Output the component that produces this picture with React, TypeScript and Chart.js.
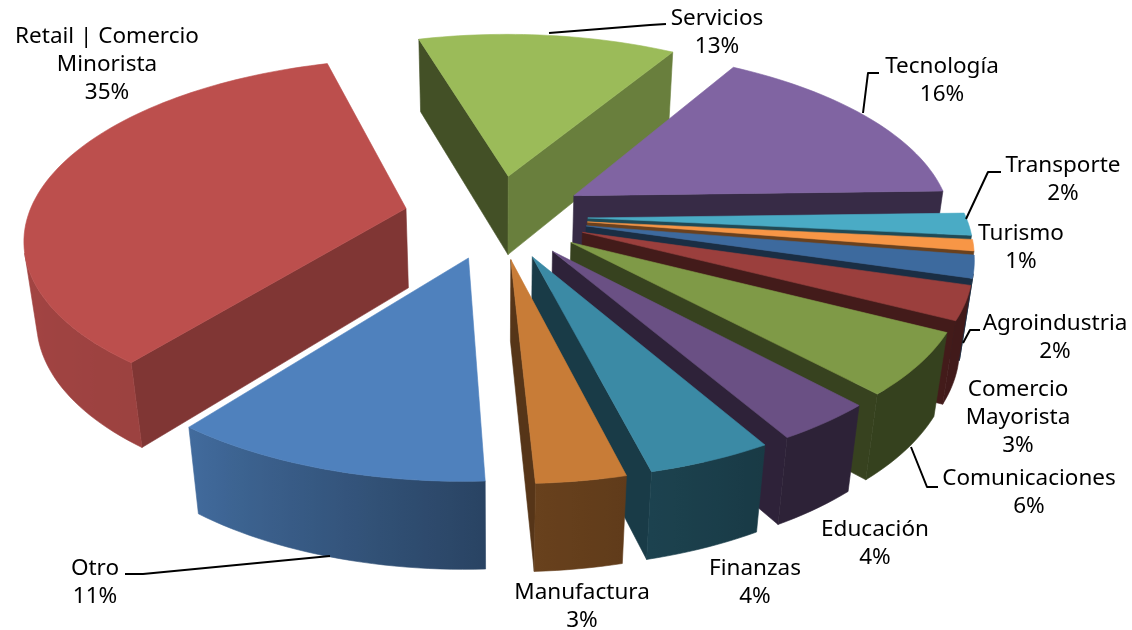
import React, { useEffect, useRef } from "react";
import { Chart, registerables } from "chart.js";

Chart.register(...registerables);

const categories = [
  "Retail | Comercio\nMinorista", "Servicios", "Tecnología", "Transporte", "Turismo", "Agroindustria",
  "Comercio\nMayorista", "Comunicaciones", "Educación", "Finanzas", "Manufactura", "Otro",
];
const shares = [35, 13, 16, 2, 1, 2, 3, 5.55, 3.55, 4.42, 3.17, 11.31];
const colors = [
  "#BC4F4D", "#9BBB59", "#8064A2", "#4AABC5", "#F79646", "#3D6A9E",
  "#9B3F3D", "#7F9A47", "#6A5084", "#3B8AA5", "#C87C37", "#4F81BD",
];

// label layout: centre x, first baseline y
const labelAnchors: [number, number][] = [
  [107, 43], [717, 25], [942, 73], [1063, 172], [1021, 240], [1055, 330],
  [1018, 396], [1029, 485], [875, 536], [755, 575], [582, 599], [95, 575],
];
const leaders: [number, number][][] = [
  [[549, 33], [650, 25], [666, 24]],
  [[863, 113], [868, 73], [879, 73]],
  [[966, 219], [988, 172], [1001, 172]],
  [[963, 343], [970, 330], [980, 330]],
  [[911, 447], [927, 487], [938, 487]],
  [[330, 556], [143, 574], [125, 574]],
];

const VIEW = { cx: 497, cy: 216.5, R: 378, Ry: 175, k: 0.153, D: 82, t: 0.8, m: 0.027, explode: 0.24 };
const RETAIL_EXPLODE = 0.247;
const FONT = '22.5px "Noto Sans", sans-serif';
const LINE = 28;

function project(X: number, Y: number, z: number): [number, number] {
  const w = 1 + VIEW.k * Y + VIEW.m * z;
  return [VIEW.cx + (VIEW.R * X) / w, VIEW.cy + (-VIEW.Ry * Y + (VIEW.D + VIEW.t * Y) * z) / w];
}

function shade(hex: string, f: number) {
  const n = parseInt(hex.slice(1), 16);
  return `rgb(${Math.round(((n >> 16) & 255) * f)},${Math.round(((n >> 8) & 255) * f)},${Math.round((n & 255) * f)})`;
}

function outerShade(deg: number) {
  if (deg < 150) return 0.42;
  if (deg < 177) return 0.42 + ((deg - 150) / 27) * 0.1;
  if (deg < 218) return 0.52 + ((deg - 177) / 41) * 0.31;
  return Math.min(0.9, 0.83 + ((deg - 218) / 70) * 0.07);
}

function poly(ctx: CanvasRenderingContext2D, pts: [number, number][], fill: string | CanvasGradient) {
  ctx.beginPath();
  pts.forEach((p, i) => (i ? ctx.lineTo(p[0], p[1]) : ctx.moveTo(p[0], p[1])));
  ctx.closePath();
  ctx.fillStyle = fill;
  ctx.strokeStyle = fill;
  ctx.lineWidth = 0.6;
  ctx.fill();
  ctx.stroke();
}

function area(p: [number, number][]) {
  let s = 0;
  p.forEach((a, i) => {
    const b = p[(i + 1) % p.length];
    s += a[0] * b[1] - b[0] * a[1];
  });
  return s / 2;
}

const wallShade = (normalRad: number) => {
  const d = (((normalRad * 180) / Math.PI) % 360 + 360) % 360;
  return d > 100 && d < 170 ? 0.68 : 0.43;
};

const pie3d = {
  id: "pie3d",
  beforeDatasetsDraw(chart: any) {
    const ctx: CanvasRenderingContext2D = chart.ctx;
    const arcs = chart.getDatasetMeta(0).data;
    const slices = arcs.map((arc: any, i: number) => {
      const a0 = arc.startAngle + Math.PI / 2;
      const a1 = arc.endAngle + Math.PI / 2;
      const mid = (a0 + a1) / 2;
      const e = i === 0 ? RETAIL_EXPLODE : VIEW.explode;
      return { i, a0, a1, ox: e * Math.sin(mid), oy: e * Math.cos(mid) };
    });
    slices.sort((a: any, b: any) => b.oy - a.oy);
    ctx.save();
    for (const s of slices) {
      const color = colors[s.i];
      const rim = (a: number, z: number) => project(s.ox + Math.sin(a), s.oy + Math.cos(a), z);
      const apex = (z: number) => project(s.ox, s.oy, z);
      const startWall: [number, number][] = [apex(0), rim(s.a0, 0), rim(s.a0, 1), apex(1)];
      const endWall: [number, number][] = [apex(1), rim(s.a1, 1), rim(s.a1, 0), apex(0)];
      if (area(startWall) < 0) poly(ctx, startWall, shade(color, wallShade(s.a0 - Math.PI / 2)));
      if (area(endWall) < 0) poly(ctx, endWall, shade(color, wallShade(s.a1 + Math.PI / 2)));
      const steps = Math.max(2, Math.ceil((s.a1 - s.a0) / (Math.PI / 120)));
      const at = (j: number) => s.a0 + ((s.a1 - s.a0) * j) / steps;
      // outer wall: one polygon over the visible run of rim segments, shaded by a gradient along x
      const visible: number[] = [];
      for (let j = 0; j < steps; j++) {
        const q: [number, number][] = [rim(at(j), 0), rim(at(j + 1), 0), rim(at(j + 1), 1), rim(at(j), 1)];
        if (area(q) < 0) visible.push(j);
      }
      if (visible.length) {
        const first = visible[0];
        const last = visible[visible.length - 1] + 1;
        const upper: [number, number][] = [];
        const lower: [number, number][] = [];
        for (let j = first; j <= last; j++) {
          upper.push(rim(at(j), 0));
          lower.unshift(rim(at(j), 1));
        }
        const xs = upper.map((p) => p[0]);
        const x0 = xs[0];
        const x1 = xs[xs.length - 1];
        const g = ctx.createLinearGradient(x0, 0, x1, 0);
        upper.forEach((p, n) => {
          const deg = (at(first + n) * 180) / Math.PI;
          const stop = Math.min(1, Math.max(0, (p[0] - x0) / (x1 - x0 || 1)));
          g.addColorStop(stop, shade(color, outerShade(((deg % 360) + 360) % 360)));
        });
        poly(ctx, [...upper, ...lower], g);
      }
      const top: [number, number][] = [apex(0)];
      for (let j = 0; j <= steps; j++) top.push(rim(at(j), 0));
      poly(ctx, top, color);
    }
    ctx.restore();
    return false;
  },
  afterDraw(chart: any) {
    const ctx: CanvasRenderingContext2D = chart.ctx;
    ctx.save();
    ctx.strokeStyle = "#000";
    ctx.lineWidth = 2;
    ctx.lineJoin = "round";
    for (const l of leaders) {
      ctx.beginPath();
      l.forEach((p, i) => (i ? ctx.lineTo(p[0], p[1]) : ctx.moveTo(p[0], p[1])));
      ctx.stroke();
    }
    ctx.fillStyle = "#000";
    ctx.font = FONT;
    ctx.textAlign = "center";
    ctx.textBaseline = "alphabetic";
    categories.forEach((name, i) => {
      const lines = [...name.split("\n"), `${Math.round(shares[i])}%`];
      lines.forEach((t, j) => ctx.fillText(t, labelAnchors[i][0], labelAnchors[i][1] + j * LINE));
    });
    ctx.restore();
  },
};

export default function App() {
  const ref = useRef<HTMLCanvasElement>(null);
  useEffect(() => {
    const chart = new Chart(ref.current!, {
      type: "pie",
      data: {
        labels: categories,
        datasets: [{ data: shares, backgroundColor: colors, borderWidth: 0 }],
      },
      options: {
        animation: false,
        responsive: false,
        rotation: 218,
        layout: { padding: 0 },
        plugins: { legend: { display: false }, tooltip: { enabled: false } },
      },
      plugins: [pie3d],
    } as any);
    return () => chart.destroy();
  }, []);
  return (
    <div style={{ position: "fixed", left: 0, top: 0, width: 1132, height: 630, background: "#fff" }}>
      <canvas ref={ref} width={1132} height={630} style={{ display: "block" }} />
    </div>
  );
}
